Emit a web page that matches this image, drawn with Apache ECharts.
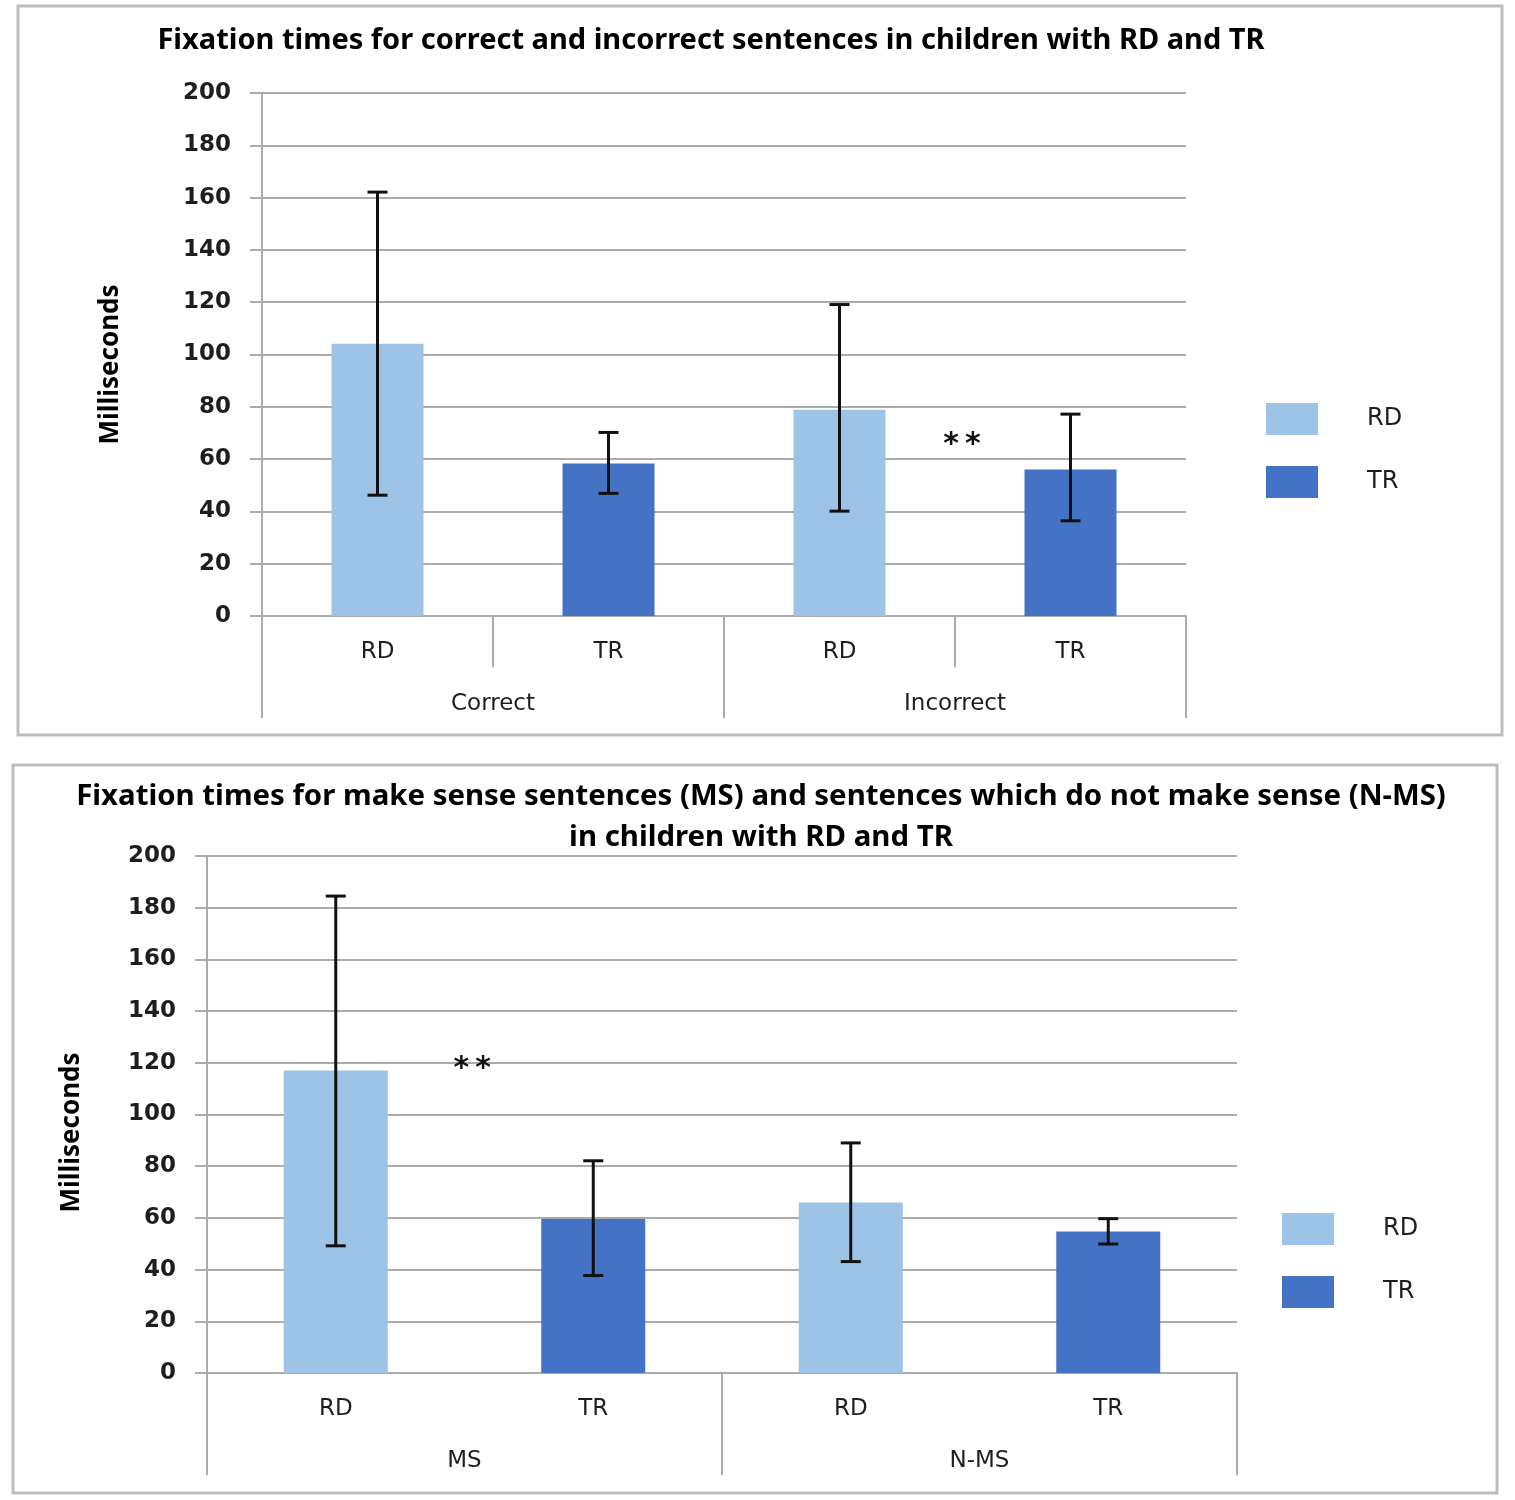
<!DOCTYPE html>
<html><head><meta charset="utf-8">
<script src="https://cdn.jsdelivr.net/npm/echarts@6/dist/echarts.min.js"></script>
<style>html,body{margin:0;padding:0;background:#fff}#c{width:1515px;height:1500px}</style>
</head><body><div id="c"></div>
<script>
// ---- data ----
const groupsTop = ['Correct', 'Incorrect'];
const catsTop = ['RD', 'TR', 'RD', 'TR'];
const rdTop = [104.1, '-', 78.9, '-'];
const trTop = ['-', 58.3, '-', 56.0];
const errLowTop = [46.2, 46.9, 40.1, 36.4];
const errHighTop = [162.1, 70.2, 119.1, 77.2];
const sigTop = [2, 0.53, 67.6]; // category index, fraction toward next, value

const groupsBot = ['MS', 'N-MS'];
const catsBot = ['RD', 'TR', 'RD', 'TR'];
const rdBot = [117.0, '-', 66.0, '-'];
const trBot = ['-', 59.6, '-', 54.7];
const errLowBot = [49.2, 37.7, 43.1, 49.9];
const errHighBot = [184.5, 82.1, 89.0, 59.7];
const sigBot = [0, 0.53, 119.7];

const yTicks = [0, 20, 40, 60, 80, 100, 120, 140, 160, 180, 200];

const titleTop = 'Fixation times for correct and incorrect sentences in children with RD and TR';
const titleBot = 'Fixation times for make sense sentences (MS) and sentences which do not make sense (N-MS)\nin children with RD and TR';

// ---- styles ----
const C_RD = '#9DC3E6', C_TR = '#4472C4';
const GRID_C = '#ababab';
const LBL = '#1e1e1e';
const TICK_FONT = 'DejaVu Sans';
const TITLE_FONT = '"Noto Sans", sans-serif';

function errData(lo, hi) { return lo.map((l, i) => [i, l, hi[i]]); }

function errRender(params, api) {
  const x = api.value(0);
  const lo = api.coord([x, api.value(1)]);
  const hi = api.coord([x, api.value(2)]);
  const cap = 10;
  const st = { stroke: '#111', lineWidth: 3 };
  return { type: 'group', children: [
    { type: 'line', shape: { x1: lo[0], y1: lo[1], x2: hi[0], y2: hi[1] }, style: st },
    { type: 'line', shape: { x1: hi[0] - cap, y1: hi[1], x2: hi[0] + cap, y2: hi[1] }, style: st },
    { type: 'line', shape: { x1: lo[0] - cap, y1: lo[1], x2: lo[0] + cap, y2: lo[1] }, style: st }
  ]};
}
function sigRender(params, api) {
  const c = api.value(0), f = api.value(1), v = api.value(2);
  const p0 = api.coord([c, v]);
  const p1 = api.coord([c + 1, v]);
  return { type: 'text', x: p0[0] + f * (p1[0] - p0[0]), y: p0[1] + 6,
    style: { text: '*\u2009*', font: 'bold 30px "DejaVu Sans"', fill: '#111', align: 'center', verticalAlign: 'middle' } };
}

function yAxis(gi, nameGap, namePad) {
  return {
    type: 'value', gridIndex: gi, min: 0, max: 200, interval: 20,
    name: 'Milliseconds', nameLocation: 'middle', nameGap: nameGap,
    nameTextStyle: { fontFamily: TITLE_FONT, fontWeight: 'bold', fontSize: 26, color: '#000', padding: [0, namePad, 0, 0] },
    axisLine: { show: true, lineStyle: { color: GRID_C, width: 2 } },
    axisTick: { show: true, length: 12, lineStyle: { color: GRID_C, width: 2 } },
    axisLabel: { margin: 31, fontFamily: TICK_FONT, fontWeight: 'bold', fontSize: 23, color: LBL,
      formatter: v => yTicks.indexOf(v) >= 0 ? String(v) : '' },
    splitLine: { show: true, lineStyle: { color: GRID_C, width: 2 } }
  };
}
function xAxes(gi, cats, groups, innerTicks) {
  return [{
    type: 'category', gridIndex: gi, data: cats, position: 'bottom', offset: 0,
    axisLine: { show: true, onZero: false, lineStyle: { color: GRID_C, width: 2 } },
    axisTick: { show: innerTicks, interval: 0, length: 51, lineStyle: { color: GRID_C, width: 2 } },
    axisLabel: { interval: 0, margin: 25, fontFamily: TICK_FONT, fontSize: 23, color: LBL }
  }, {
    type: 'category', gridIndex: gi, data: groups, position: 'bottom', offset: 0,
    axisLine: { show: false, onZero: false },
    axisTick: { show: true, interval: 0, length: 102, lineStyle: { color: GRID_C, width: 2 } },
    axisLabel: { interval: 0, margin: 77, fontFamily: TICK_FONT, fontSize: 23, color: LBL }
  }];
}
function legend(left, top) {
  return {
    orient: 'vertical', left: left, top: top, itemWidth: 52, itemHeight: 32, itemGap: 31,
    icon: 'rect', data: ['RD', 'TR'],
    textStyle: { fontFamily: TICK_FONT, fontSize: 24, color: LBL, padding: [0, 0, 0, 44] }
  };
}

const chart = echarts.init(document.getElementById('c'));
chart.setOption({
  animation: false,
  backgroundColor: '#fff',
  graphic: [
    { type: 'rect', shape: { x: 18, y: 6, width: 1484, height: 729 }, style: { fill: 'none', stroke: '#bdbdbd', lineWidth: 3 } },
    { type: 'rect', shape: { x: 13, y: 765, width: 1484, height: 728 }, style: { fill: 'none', stroke: '#bdbdbd', lineWidth: 3 } }
  ],
  title: [
    { text: titleTop, left: 706, top: 21, textAlign: 'center',
      textStyle: { fontFamily: TITLE_FONT, fontWeight: 'bold', fontSize: 29, color: '#000' } },
    { text: titleBot, left: 756, top: 771, textAlign: 'center',
      textStyle: { fontFamily: TITLE_FONT, fontWeight: 'bold', fontSize: 29.4, color: '#000', lineHeight: 41 } }
  ],
  legend: [legend(1261, 398), legend(1277, 1208)],
  grid: [
    { left: 262, top: 93, width: 924, height: 523 },
    { left: 207, top: 856, width: 1030, height: 517 }
  ],
  xAxis: [].concat(xAxes(0, catsTop, groupsTop, true), xAxes(1, catsBot, groupsBot, false)),
  yAxis: [yAxis(0, 138, 20), yAxis(1, 122, 36)],
  series: [
    { name: 'RD', type: 'bar', xAxisIndex: 0, yAxisIndex: 0, data: rdTop, barWidth: 92, barGap: '-100%', itemStyle: { color: C_RD } },
    { name: 'TR', type: 'bar', xAxisIndex: 0, yAxisIndex: 0, data: trTop, barWidth: 92, barGap: '-100%', itemStyle: { color: C_TR } },
    { type: 'custom', xAxisIndex: 0, yAxisIndex: 0, data: errData(errLowTop, errHighTop), renderItem: errRender, encode: { x: 0, y: [1, 2] }, z: 5 },
    { type: 'custom', xAxisIndex: 0, yAxisIndex: 0, data: [sigTop], renderItem: sigRender, encode: { x: 0, y: 2 }, z: 5 },
    { name: 'RD', type: 'bar', xAxisIndex: 2, yAxisIndex: 1, data: rdBot, barWidth: 104, barGap: '-100%', itemStyle: { color: C_RD } },
    { name: 'TR', type: 'bar', xAxisIndex: 2, yAxisIndex: 1, data: trBot, barWidth: 104, barGap: '-100%', itemStyle: { color: C_TR } },
    { type: 'custom', xAxisIndex: 2, yAxisIndex: 1, data: errData(errLowBot, errHighBot), renderItem: errRender, encode: { x: 0, y: [1, 2] }, z: 5 },
    { type: 'custom', xAxisIndex: 2, yAxisIndex: 1, data: [sigBot], renderItem: sigRender, encode: { x: 0, y: 2 }, z: 5 }
  ]
});
</script></body></html>
